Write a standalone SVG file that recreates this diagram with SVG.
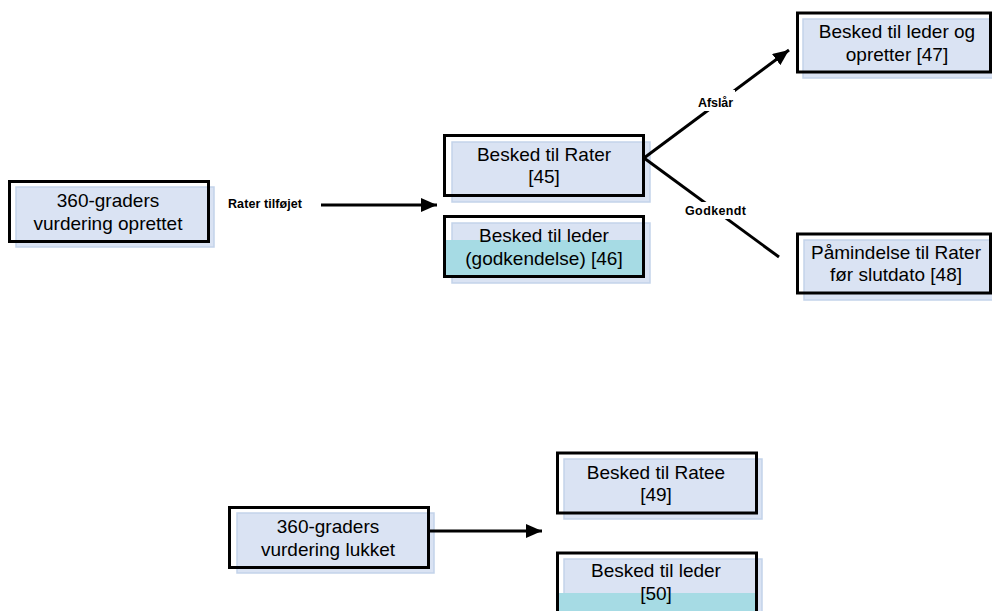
<svg xmlns="http://www.w3.org/2000/svg" width="992" height="611" viewBox="0 0 992 611">
<style>
.bg{fill:#dae3f3;stroke:#c3d3ea;stroke-width:1.5}
.cy{fill:#a6dbe4}
.bd{fill:none;stroke:#000;stroke-width:3}
.t{font-family:"Liberation Sans",Arial,sans-serif;font-size:19px;fill:#000;text-anchor:middle}
.lb{font-family:"Liberation Sans",Arial,sans-serif;font-size:12.5px;font-weight:bold;fill:#000}
.lbg{fill:#fff}
.ln{stroke:#000;stroke-width:3;fill:none}
</style>
<defs>
<marker id="ah" markerWidth="17" markerHeight="14" refX="16" refY="7" orient="auto" markerUnits="userSpaceOnUse">
<path d="M0,0 L16,7 L0,14 Z" fill="#000"/>
</marker>
</defs>
<rect width="992" height="611" fill="#fff"/>

<g id="n-oprettet">
<rect class="bg" x="16" y="187" width="198" height="60"/>
<rect class="bd" x="9.5" y="181.5" width="199" height="60"/>
<text class="t" x="108" y="207">360-graders</text>
<text class="t" x="108" y="229.5">vurdering oprettet</text>
</g>

<g id="n45">
<rect class="bg" x="452" y="142" width="198" height="60"/>
<rect class="bd" x="444.5" y="135.5" width="199" height="60"/>
<text class="t" x="544" y="160.5">Besked til Rater</text>
<text class="t" x="544" y="183">[45]</text>
</g>

<g id="n46">
<rect class="bg" x="452" y="223" width="198" height="60"/>
<rect class="cy" x="445" y="240" width="198" height="37"/>
<rect class="bd" x="444.5" y="216.5" width="199" height="60"/>
<text class="t" x="544" y="242">Besked til leder</text>
<text class="t" x="544" y="264.5">(godkendelse) [46]</text>
</g>

<g id="n47">
<rect class="bg" x="803" y="19" width="195" height="59"/>
<rect class="bd" x="797.5" y="13" width="193" height="59"/>
<text class="t" x="897" y="38">Besked til leder og</text>
<text class="t" x="897" y="60.5">opretter [47]</text>
</g>

<g id="n48">
<rect class="bg" x="804" y="240" width="195" height="60"/>
<rect class="bd" x="797.5" y="234" width="193" height="59"/>
<text class="t" x="896" y="258.5">Påmindelse til Rater</text>
<text class="t" x="896" y="281">før slutdato [48]</text>
</g>

<g id="n-lukket">
<rect class="bg" x="237" y="513" width="197" height="60"/>
<rect class="bd" x="229.5" y="507.5" width="199" height="60"/>
<text class="t" x="328" y="533">360-graders</text>
<text class="t" x="328" y="555.5">vurdering lukket</text>
</g>

<g id="n49">
<rect class="bg" x="564" y="459" width="198" height="60"/>
<rect class="bd" x="557.5" y="453" width="199" height="60"/>
<text class="t" x="656" y="478.5">Besked til Ratee</text>
<text class="t" x="656" y="501">[49]</text>
</g>

<g id="n50">
<rect class="bg" x="564" y="559" width="198" height="60"/>
<rect class="cy" x="557" y="593" width="199" height="20"/>
<rect class="bd" x="557.5" y="553" width="199" height="62"/>
<text class="t" x="656" y="577">Besked til leder</text>
<text class="t" x="656" y="600">[50]</text>
</g>

<g id="connectors">
<line class="ln" x1="321" y1="205" x2="437" y2="205" marker-end="url(#ah)"/>
<text class="lb" x="228" y="208" textLength="74">Rater tilføjet</text>
<line class="ln" x1="644" y1="158" x2="789" y2="50" marker-end="url(#ah)"/>
<rect class="lbg" x="696" y="90" width="39" height="21"/>
<text class="lb" x="698" y="107" textLength="35">Afslår</text>
<line class="ln" x1="644" y1="158" x2="779" y2="257"/>
<rect class="lbg" x="683" y="202" width="65" height="17"/>
<text class="lb" x="685" y="215" textLength="61">Godkendt</text>
<line class="ln" x1="430" y1="531" x2="542" y2="531" marker-end="url(#ah)"/>
</g>
</svg>
